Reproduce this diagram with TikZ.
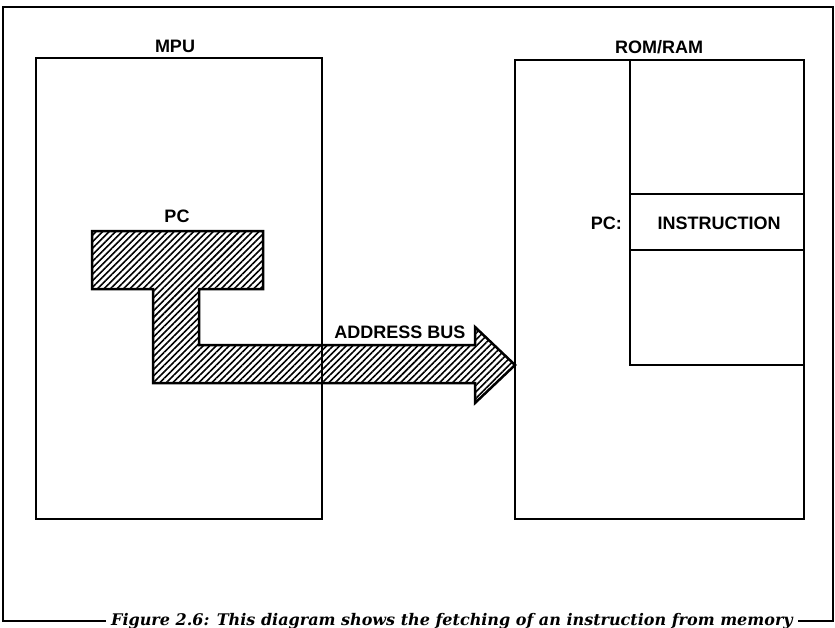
\documentclass[tikz,border=0pt]{standalone}
\usepackage{fontspec}
\setmainfont{Liberation Serif}
\setsansfont{Liberation Sans}
\newfontfamily\captionfont{DejaVu Serif}
\usetikzlibrary{patterns.meta}

\begin{document}
\begin{tikzpicture}[
  x = 1pt, y = -1pt,
  every node/.style = {font=\sffamily\bfseries\fontsize{18}{20}\selectfont, inner sep=0pt, anchor=base},
  box/.style = {draw, line width=2.5pt},
  cell/.style = {draw, line width=2pt},
  frame/.style = {draw, line width=1.3pt},
  bus/.style = {draw, line width=2.5pt, line join=miter,
                pattern={Lines[angle=45, distance=4.6pt, line width=1.6pt]}},
]

\useasboundingbox (0,0) rectangle (835,627);

\node (mpu)    at (175, 52) {MPU};
\node (mem)    at (659, 53) {ROM/RAM};
\node (pc)     at (177,222) {PC};
\node[anchor=base east] (pcaddr) at (622,229) {PC:};
\node (instr)  at (719,229) {INSTRUCTION};
\node (busname) at (400,338) {ADDRESS BUS};
\node[font=\captionfont\bfseries\itshape\fontsize{16}{18}\selectfont] (caption)
  at (452,625) {Figure 2.6: This diagram shows the fetching of an instruction from memory};

% frame, open where the caption sits
\draw[frame] (106,621) -- (3,621) -- (3,7) -- (833,7) -- (833,621) -- (798,621);

% MPU and memory
\draw[box] (36,58) rectangle (322,519);
\draw[box] (515,60) rectangle (804,519);
\draw[cell] (630,60) -- (630,365) -- (804,365);
\foreach \y in {194, 250}
  \draw[cell] (630,\y) -- (804,\y);

% PC register feeding the address bus
\draw[bus] (92,231) -- (263,231) -- (263,289) -- (199,289) -- (199,345)
  -- (475,345) -- (475,327) -- (515,365) -- (475,403) -- (475,383)
  -- (153,383) -- (153,289) -- (92,289) -- cycle;

\end{tikzpicture}
\end{document}
